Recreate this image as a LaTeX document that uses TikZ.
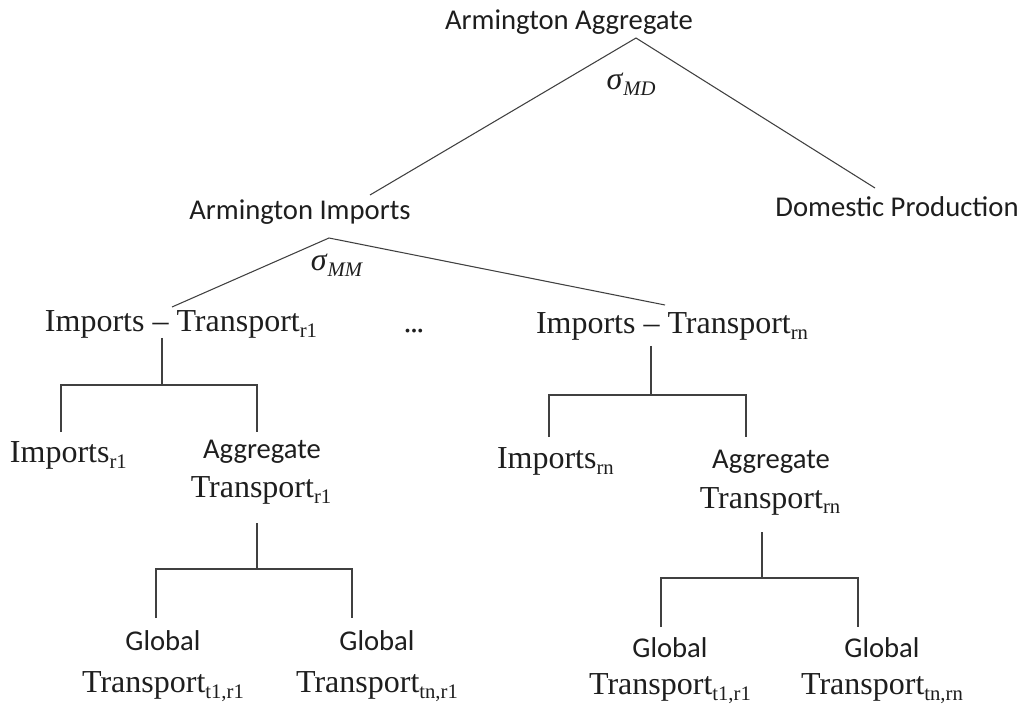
\documentclass[tikz,border=0pt]{standalone}
\usepackage{fontspec}
\setmainfont{Liberation Serif}
\newfontfamily\calibfont{Carlito}
\definecolor{linegray}{HTML}{404040}
\definecolor{textblack}{HTML}{1E1E1E}
% lowered index in the serif face
\newcommand{\sbs}[1]{\raisebox{-4.5pt}{\fontsize{15.5}{18}\selectfont #1}}
\begin{document}
\begin{tikzpicture}[x=0.75pt,y=-0.75pt,
  lbl/.style={inner sep=0pt,outer sep=0pt,anchor=base,text=textblack,font=\fontsize{24}{28}\selectfont},
  lblw/.style={lbl,anchor=base west},
  sans/.style={lbl,font=\calibfont\fontsize{21.5}{26}\selectfont},
  tie/.style={draw=linegray,line width=0.8pt}]
\useasboundingbox (0,0) rectangle (1026,706);

% top level
\node[sans] (aa) at (569,30) {Armington Aggregate};
\node[sans] (ai) at (300,220) {Armington Imports};
\node[sans] (dp) at (897,217) {Domestic Production};
\node[lbl] (smd) at (631,90) {\textit{σ}\sbs{\textit{MD}}};

% second level
\node[lbl] (smm) at (337,271) {\textit{σ}\sbs{\textit{MM}}};
\node[lblw] (itr1) at (45,332) {Imports – Transport\sbs{r1}};
\node[lblw] (itrn) at (536,334) {Imports – Transport\sbs{rn}};
\node[lbl] (dots) at (414,333) {.\kern-1.2pt.\kern-1.2pt.};

% third level
\node[lblw] (ir1) at (10,462) {Imports\sbs{r1}};
\node[sans] (atr1a) at (262,458) {Aggregate};
\node[lbl] (atr1b) at (261,497) {Transport\sbs{r1}};
\node[lblw] (irn) at (497,469) {Imports\sbs{rn}};
\node[sans] (atrna) at (771,468) {Aggregate};
\node[lbl] (atrnb) at (770,508) {Transport\sbs{rn}};

% fourth level
\node[sans] (g1a) at (163,650) {Global};
\node[lbl] (g1b) at (163,692) {Transport\sbs{t1,r1}};
\node[sans] (g2a) at (377,650) {Global};
\node[lbl] (g2b) at (377,692) {Transport\sbs{tn,r1}};
\node[sans] (g3a) at (670,657) {Global};
\node[lbl] (g3b) at (670,694) {Transport\sbs{t1,r1}};
\node[sans] (g4a) at (882,657) {Global};
\node[lbl] (g4b) at (882,694) {Transport\sbs{tn,rn}};

% junction points
\coordinate (topapex) at (636,38);
\coordinate (aiend) at (370,195);
\coordinate (dpend) at (875,188);
\coordinate (midapex) at (329,238);
\coordinate (r1end) at (172,307);
\coordinate (rnend) at (665,305);

\coordinate (b1top) at (162,338);
\coordinate (b1mid) at (162,385);
\coordinate (b1l) at (61,432);
\coordinate (b1r) at (257,432);

\coordinate (b2top) at (651,346);
\coordinate (b2mid) at (651,395);
\coordinate (b2l) at (549,437);
\coordinate (b2r) at (746,437);

\coordinate (b3top) at (257,523);
\coordinate (b3mid) at (257,569);
\coordinate (b3l) at (156,618);
\coordinate (b3r) at (352,618);

\coordinate (b4top) at (762,532);
\coordinate (b4mid) at (762,578);
\coordinate (b4l) at (661,627);
\coordinate (b4r) at (858,627);

% nesting lines
\draw[tie] (aiend) -- (topapex) -- (dpend);
\draw[tie] (r1end) -- (midapex) -- (rnend);

\draw[tie] (b1top) -- (b1mid);
\draw[tie] (b1l) |- (b1mid) -| (b1r);
\draw[tie] (b2top) -- (b2mid);
\draw[tie] (b2l) |- (b2mid) -| (b2r);
\draw[tie] (b3top) -- (b3mid);
\draw[tie] (b3l) |- (b3mid) -| (b3r);
\draw[tie] (b4top) -- (b4mid);
\draw[tie] (b4l) |- (b4mid) -| (b4r);
\end{tikzpicture}
\end{document}
